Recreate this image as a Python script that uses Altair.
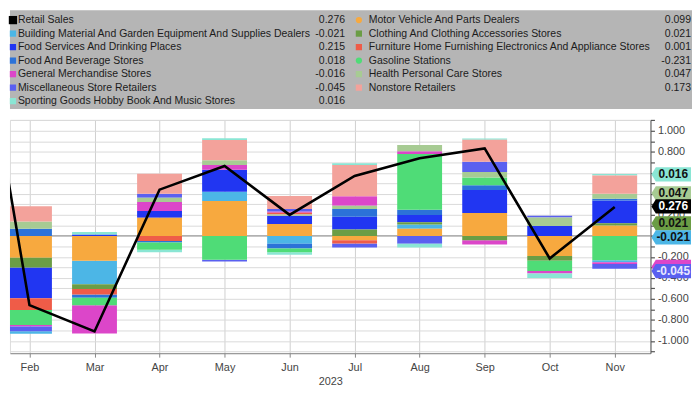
import altair as alt
import pandas as pd

# ---------------- data ----------------
line_months = ["Jan", "Feb", "Mar", "Apr", "May", "Jun", "Jul", "Aug", "Sep", "Oct", "Nov"]
retail_sales = [3.00, -0.66, -0.91, 0.44, 0.665, 0.20, 0.57, 0.74, 0.833, -0.215, 0.276]
bar_months = line_months[1:]

series_keys = ["B", "FS", "FB", "GM", "MI", "SP", "MO", "CL", "FU", "GA", "HE", "NS"]
series_names = [
    "Building Material And Garden Equipment And Supplies Dealers",
    "Food Services And Drinking Places",
    "Food And Beverage Stores",
    "General Merchandise Stores",
    "Miscellaneous Store Retailers",
    "Sporting Goods Hobby Book And Music Stores",
    "Motor Vehicle And Parts Dealers",
    "Clothing And Clothing Accessories Stores",
    "Furniture Home Furnishing Electronics And Appliance Stores",
    "Gasoline Stations",
    "Health Personal Care Stores",
    "Nonstore Retailers",
]
series_colors = ["#4cb6e6", "#2136f2", "#2c72d8", "#dc46c9", "#5a60f0", "#8ae6d4",
                 "#f7a93f", "#6b9d45", "#ef5c48", "#4fdc77", "#a7cb93", "#f3a29b"]

#                Feb     Mar     Apr     May     Jun     Jul     Aug     Sep     Oct     Nov
building      = [-0.024, -0.224, 0.000, 0.090, -0.075, 0.000, 0.039, 0.000, 0.000, -0.021]
food_services = [-0.293, 0.012, 0.063, 0.209, 0.078, 0.122, 0.069, 0.218, 0.093, 0.215]
food_beverage = [0.069, -0.030, -0.015, 0.000, -0.045, 0.075, 0.051, 0.045, 0.000, 0.018]
general_merch = [-0.015, -0.269, 0.087, 0.045, 0.010, 0.090, 0.027, -0.039, -0.024, -0.016]
misc_retail   = [-0.045, 0.000, 0.039, -0.018, 0.024, -0.039, -0.075, 0.099, 0.018, -0.045]
sporting      = [0.000, 0.025, -0.024, 0.015, -0.024, 0.015, -0.036, 0.012, -0.042, 0.016]
motor         = [-0.209, -0.236, 0.173, 0.331, 0.113, -0.042, 0.069, 0.218, -0.191, 0.099]
clothing      = [-0.093, -0.045, 0.000, 0.000, 0.000, 0.060, 0.021, -0.042, -0.045, 0.021]
furniture     = [-0.110, -0.054, -0.048, 0.000, 0.018, -0.030, 0.000, 0.000, 0.000, 0.001]
gasoline      = [-0.143, -0.072, -0.069, -0.227, -0.036, 0.000, 0.530, 0.075, -0.099, -0.231]
health        = [0.069, 0.000, 0.039, 0.045, 0.012, 0.030, 0.060, 0.051, 0.081, 0.047]
nonstore      = [0.143, 0.000, 0.191, 0.194, 0.125, 0.299, 0.000, 0.209, 0.000, 0.173]

series_values = [building, food_services, food_beverage, general_merch, misc_retail, sporting,
                 motor, clothing, furniture, gasoline, health, nonstore]

# stacking order (from the zero line outward) in each month
stack_order = {
    "Feb": ["FB", "HE", "NS", "MO", "CL", "FS", "FU", "GA", "GM", "MI", "B"],
    "Mar": ["FS", "SP", "MO", "B", "CL", "FU", "FB", "GA", "GM"],
    "Apr": ["MO", "FS", "GM", "HE", "MI", "NS", "FU", "FB", "GA", "SP"],
    "May": ["MO", "B", "FS", "GM", "HE", "NS", "SP", "GA", "MI"],
    "Jun": ["MO", "FS", "HE", "FU", "GM", "MI", "NS", "B", "FB", "GA", "SP"],
    "Jul": ["CL", "FS", "FB", "HE", "GM", "NS", "SP", "MO", "FU", "MI"],
    "Aug": ["MO", "B", "CL", "FS", "FB", "GA", "GM", "HE", "MI", "SP"],
    "Sep": ["MO", "FS", "FB", "GA", "HE", "MI", "NS", "SP", "CL", "GM"],
    "Oct": ["FS", "HE", "MI", "MO", "CL", "GA", "GM", "SP"],
    "Nov": ["MO", "CL", "FU", "FS", "FB", "HE", "NS", "SP", "GA", "B", "GM", "MI"],
}

# right-axis value tags (series, vertical placement in data units)
tag_keys = ["SP", "HE", "RS", "CL", "B", "GM", "MI"]
tag_positions = [0.585, 0.405, 0.28, 0.12, -0.015, -0.295, -0.335]
tag_text_colors = ["#111111", "#111111", "#ffffff", "#111111", "#111111", "#dc46c9", "#e8e8ff"]

# right axis ticks every 0.1, labelled every 0.2
tick_values = [round(-1.1 + 0.1 * k, 1) for k in range(23)]

# ---------------- tables ----------------
rows = []
for key, name, color, vals in zip(series_keys, series_names, series_colors, series_values):
    for i, (m, v) in enumerate(zip(bar_months, vals)):
        if v != 0:
            rows.append({"idx": i + 1, "series": name, "color": color, "value": v,
                         "order": stack_order[m].index(key)})
bars_df = pd.DataFrame(rows)

line_df = pd.DataFrame({"idx": list(range(len(line_months))), "value": retail_sales})

legend_rows = [{"name": "Retail Sales", "color": "#000000", "value": retail_sales[-1]}]
for name, color, vals in zip(series_names, series_colors, series_values):
    legend_rows.append({"name": name, "color": color, "value": vals[-1]})
legend_df = pd.DataFrame(legend_rows)
legend_df["col"] = [0] * 7 + [1] * 6
legend_df["row"] = list(range(7)) + list(range(6))
legend_df["label"] = legend_df["value"].map(lambda v: f"{v:.3f}")
legend_df["shape"] = ["square"] * 7 + ["circle", "square", "square", "circle", "square", "square"]
legend_df["size"] = [70] + [40] * 12

key_to_color = dict(zip(series_keys, series_colors))
key_to_color["RS"] = "#000000"
key_to_last = {k: v[-1] for k, v in zip(series_keys, series_values)}
key_to_last["RS"] = retail_sales[-1]
tags_df = pd.DataFrame({
    "pos": tag_positions,
    "fill": [key_to_color[k] for k in tag_keys],
    "tcolor": tag_text_colors,
    "label": [f"{key_to_last[k]:.3f}" for k in tag_keys],
    "z": list(range(len(tag_keys))),
})

# ---------------- legend panel ----------------
LW, LH = 690, 100
FONT = "Liberation Sans"
ly = alt.Y("row:Q", scale=alt.Scale(domain=[0, 6], range=[10, 92]), axis=None)

leg_base = alt.Chart(legend_df)
leg_markers = leg_base.mark_point(filled=True, opacity=1).encode(
    x=alt.X("col:Q", scale=alt.Scale(domain=[0, 1], range=[3, 353]), axis=None),
    y=ly,
    shape=alt.Shape("shape:N", scale=None),
    size=alt.Size("size:Q", scale=None),
    color=alt.Color("color:N", scale=None),
)
leg_names = leg_base.mark_text(align="left", baseline="middle", font=FONT, fontSize=10.6, color="#1c1c1c").encode(
    x=alt.X("col:Q", scale=alt.Scale(domain=[0, 1], range=[8, 363]), axis=None),
    y=ly,
    text="name:N",
)
leg_vals = leg_base.mark_text(align="right", baseline="middle", font=FONT, fontSize=10.6, color="#1c1c1c").encode(
    x=alt.X("col:Q", scale=alt.Scale(domain=[0, 1], range=[339, 689]), axis=None),
    y=ly,
    text="label:N",
)
legend_panel = alt.layer(leg_markers, leg_names, leg_vals).resolve_scale(x="independent").properties(
    width=LW, height=LH, view=alt.ViewBackground(fill="#b5b5b5", stroke=None)
)

# ---------------- main plot ----------------
W, H = 648, 236
xscale = alt.Scale(domain=[0.70, 10.55], nice=False, zero=False)
yscale = alt.Scale(domain=[-1.117, 1.104], nice=False, zero=False)
month_js = "[" + ",".join(f"'{m}'" for m in line_months) + "]"

x_axis = alt.Axis(
    values=list(range(1, len(line_months))), tickCount=100,
    labelExpr=f"{month_js}[datum.value]",
    title="2023", titleFontWeight="normal", titleFontSize=11, titleColor="#444",
    titlePadding=3, labelFontSize=11, labelColor="#444", labelPadding=5,
    grid=True, gridColor="#cfcfcf", tickColor="#888", tickSize=4,
    domainColor="#888", labelFont=FONT, titleFont=FONT,
)
y_axis = alt.Axis(
    orient="right", values=tick_values, tickCount=100, title=None, labelOverlap=False,
    labelExpr="(abs(round(datum.value*10)) % 2 == 0 && abs(datum.value) < 1.05) ? "
              "((datum.value < -0.0001 ? '-' : '') + format(abs(datum.value), '.3f')) : ''",
    grid=True, gridColor="#dadada", tickColor="#555", tickSize=4, tickWidth=1.2,
    domainColor="#555", labelFontSize=11, labelColor="#444", labelPadding=3, labelFont=FONT,
)

zero_rule = alt.Chart(pd.DataFrame({"y": [0.0]})).mark_rule(color="#8a8a8a", strokeWidth=1).encode(
    y=alt.Y("y:Q", scale=yscale, axis=y_axis)
)

bars = alt.Chart(bars_df).transform_stack(
    stack="value", groupby=["idx"], as_=["v0", "v1"],
    sort=[alt.SortField("order", order="ascending")], offset="zero"
).transform_calculate(
    x0="datum.idx - 0.345", x1="datum.idx + 0.345"
).mark_rect(strokeWidth=0, clip=True).encode(
    x=alt.X("x0:Q", scale=xscale, axis=x_axis),
    x2="x1:Q",
    y=alt.Y("v0:Q", scale=yscale),
    y2="v1:Q",
    color=alt.Color("color:N", scale=None),
)

line = alt.Chart(line_df).mark_line(color="#000000", strokeWidth=2.6, clip=True).encode(
    x=alt.X("idx:Q", scale=xscale),
    y=alt.Y("value:Q", scale=yscale),
)

tag_shape = "M -1 0 L -0.78 -0.36 L 1 -0.36 L 1 0.36 L -0.78 0.36 Z"
tag_layers = []
for z in range(len(tag_keys)):
    sub = alt.Chart(tags_df).transform_filter(f"datum.z == {z}")
    tag_layers.append(
        sub.mark_point(shape=tag_shape, size=1600, filled=True, opacity=1, strokeWidth=0).encode(
            x=alt.value(W + 21),
            y=alt.Y("pos:Q", scale=yscale),
            color=alt.Color("fill:N", scale=None),
        )
    )
    tag_layers.append(
        sub.mark_text(align="center", baseline="middle", font=FONT, fontSize=12, fontWeight="bold").encode(
            x=alt.value(W + 23),
            y=alt.Y("pos:Q", scale=yscale),
            text="label:N",
            color=alt.Color("tcolor:N", scale=None),
        )
    )

main = alt.layer(zero_rule, bars, line, *tag_layers).properties(width=W, height=H)

chart = alt.vconcat(legend_panel, main, spacing=4).properties(
    padding=0, background="#ffffff"
).configure_view(stroke=None).configure(font=FONT)

chart.save("out.html", embed_options={"renderer": "svg", "actions": False})
